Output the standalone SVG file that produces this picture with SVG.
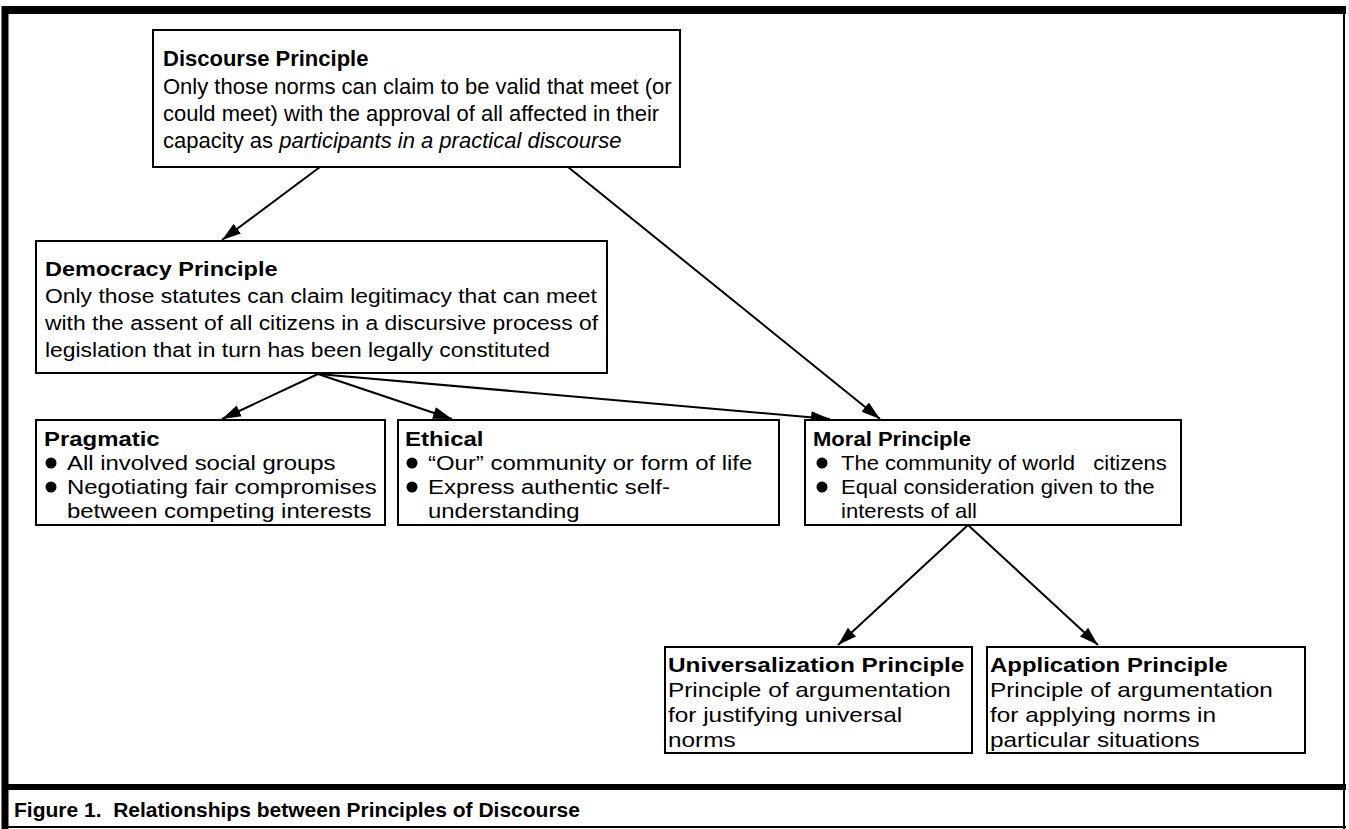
<svg xmlns="http://www.w3.org/2000/svg" width="1349" height="829" viewBox="0 0 1349 829">
<style>
text{font-family:"Liberation Sans",Arial,sans-serif;font-size:21px;fill:#000}
.b{font-weight:bold}
.i{font-style:italic}
.f22{font-size:22px}
.f23{font-size:23px}
.box{fill:#fff;stroke:#000;stroke-width:2}
.c{stroke:#000;stroke-width:2;fill:none}
.bul{fill:#000}
</style>
<defs>
<marker id="ah" markerUnits="userSpaceOnUse" markerWidth="20" markerHeight="14" refX="19" refY="7" orient="auto">
<path d="M0,1 L19,7 L0,13 z" fill="#000"/>
</marker>
</defs>
<rect x="0" y="0" width="1349" height="829" fill="#fff"/>
<g id="frame">
<line x1="2" y1="10" x2="1346" y2="10" stroke="#000" stroke-width="8"/>
<line x1="5" y1="6" x2="5" y2="829" stroke="#000" stroke-width="7"/>
<line x1="1344" y1="6" x2="1344" y2="829" stroke="#000" stroke-width="2"/>
<line x1="2" y1="787" x2="1346" y2="787" stroke="#000" stroke-width="6"/>
<line x1="2" y1="827" x2="1346" y2="827" stroke="#000" stroke-width="2"/>
</g>
<g id="connectors">
<line class="c" x1="320" y1="167" x2="222" y2="240" marker-end="url(#ah)"/>
<line class="c" x1="568" y1="167" x2="880" y2="419" stroke-width="1.6" marker-end="url(#ah)"/>
<line class="c" x1="318" y1="374" x2="222" y2="419" marker-end="url(#ah)"/>
<line class="c" x1="318" y1="374" x2="452" y2="419" marker-end="url(#ah)"/>
<line class="c" x1="318" y1="374" x2="830" y2="419" marker-end="url(#ah)"/>
<line class="c" x1="968" y1="525" x2="838" y2="645" stroke-width="1.6" marker-end="url(#ah)"/>
<line class="c" x1="968" y1="525" x2="1098" y2="645" stroke-width="1.6" marker-end="url(#ah)"/>
</g>
<g id="discourse">
<rect class="box" x="153" y="30" width="527" height="137"/>
<text class="b f22" x="163" y="66">Discourse Principle</text>
<text class="f22" x="163" y="94">Only those norms can claim to be valid that meet (or</text>
<text class="f22" x="163" y="121">could meet) with the approval of all affected in their</text>
<text class="f22" x="163" y="148">capacity as <tspan class="i">participants in a practical discourse</tspan></text>
</g>
<g id="democracy">
<rect class="box" x="36" y="241" width="571" height="132"/>
<text class="b" transform="translate(45,276) scale(1.12,1)">Democracy Principle</text>
<text transform="translate(45,303) scale(1.09,1)">Only those statutes can claim legitimacy that can meet</text>
<text transform="translate(45,330) scale(1.09,1)">with the assent of all citizens in a discursive process of</text>
<text transform="translate(45,357) scale(1.09,1)">legislation that in turn has been legally constituted</text>
</g>
<g id="pragmatic">
<rect class="box" x="36" y="420" width="349" height="105"/>
<text class="b" transform="translate(44,446) scale(1.14,1)">Pragmatic</text>
<circle class="bul" cx="51" cy="463" r="5.5"/>
<text transform="translate(67,470) scale(1.14,1)">All involved social groups</text>
<circle class="bul" cx="51" cy="487" r="5.5"/>
<text transform="translate(67,494) scale(1.14,1)">Negotiating fair compromises</text>
<text transform="translate(67,518) scale(1.14,1)">between competing interests</text>
</g>
<g id="ethical">
<rect class="box" x="398" y="420" width="381" height="105"/>
<text class="b" transform="translate(405,446) scale(1.14,1)">Ethical</text>
<circle class="bul" cx="412" cy="463" r="5.5"/>
<text transform="translate(428,470) scale(1.14,1)">“Our” community or form of life</text>
<circle class="bul" cx="412" cy="487" r="5.5"/>
<text transform="translate(428,494) scale(1.14,1)">Express authentic self-</text>
<text transform="translate(428,518) scale(1.14,1)">understanding</text>
</g>
<g id="moral">
<rect class="box" x="805" y="420" width="376" height="105"/>
<text class="b" transform="translate(813,446) scale(1.05,1)">Moral Principle</text>
<circle class="bul" cx="822" cy="463" r="5.5"/>
<text transform="translate(841,470) scale(1.05,1)" xml:space="preserve">The community of world   citizens</text>
<circle class="bul" cx="822" cy="487" r="5.5"/>
<text transform="translate(841,494) scale(1.05,1)">Equal consideration given to the</text>
<text transform="translate(841,518) scale(1.05,1)">interests of all</text>
</g>
<g id="universalization">
<rect class="box" x="665" y="647" width="307" height="106"/>
<text class="b" transform="translate(668,672) scale(1.16,1)">Universalization Principle</text>
<text transform="translate(668,697) scale(1.16,1)">Principle of argumentation</text>
<text transform="translate(668,722) scale(1.16,1)">for justifying universal</text>
<text transform="translate(668,747) scale(1.16,1)">norms</text>
</g>
<g id="application">
<rect class="box" x="987" y="647" width="318" height="106"/>
<text class="b" transform="translate(990,672) scale(1.14,1)">Application Principle</text>
<text transform="translate(990,697) scale(1.16,1)">Principle of argumentation</text>
<text transform="translate(990,722) scale(1.16,1)">for applying norms in</text>
<text transform="translate(990,747) scale(1.16,1)">particular situations</text>
</g>
<g id="caption">
<text class="b" x="14" y="817" xml:space="preserve">Figure 1.  Relationships between Principles of Discourse</text>
</g>
</svg>
